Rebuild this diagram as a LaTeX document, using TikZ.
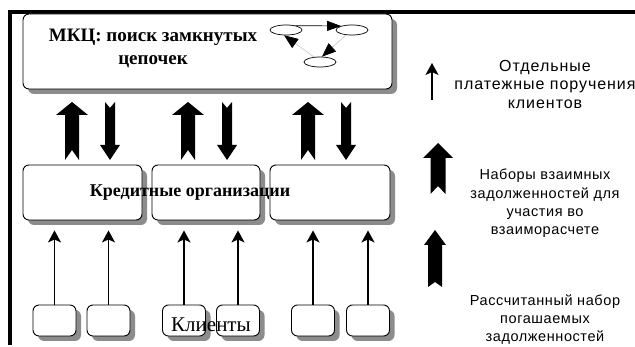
\documentclass[tikz,border=0pt]{standalone}
\usepackage{fontspec}
\setmainfont{Liberation Serif}
\newfontfamily\legendfont[LetterSpace=4]{Liberation Sans}
\newfontfamily\legendwide[LetterSpace=6]{Liberation Sans}
\usetikzlibrary{arrows.meta,shapes.geometric,shadows}
% cx, tip y, head length, head half width, body half width, bottom y, notch depth
\newcommand\ThickUpArrow[7]{%
  \fill ({#1},{#2}) -- ({#1+#4},{#2+#3}) -- ({#1+#5},{#2+#3}) -- ({#1+#5},{#6})
     -- ({#1},{#6-#7}) -- ({#1-#5},{#6}) -- ({#1-#5},{#2+#3}) -- ({#1-#4},{#2+#3}) -- cycle;}
% cx, top y, notch depth, body half width, head half width, head start y, tip y
\newcommand\ThickDownArrow[7]{%
  \fill ({#1-#4},{#2}) -- ({#1},{#2+#3}) -- ({#1+#4},{#2}) -- ({#1+#4},{#6})
     -- ({#1+#5},{#6}) -- ({#1},{#7}) -- ({#1-#5},{#6}) -- ({#1-#4},{#6}) -- cycle;}
\begin{document}
\begin{tikzpicture}[x=1pt,y=-1pt,
  box/.style={draw=black, line width=0.9pt, fill=white, rounded corners=6pt, inner sep=0pt,
     drop shadow={shadow xshift=5pt, shadow yshift=-5pt, fill=black!45, opacity=1}},
  ell/.style={draw, ellipse, minimum width=32pt, minimum height=10pt, inner sep=0pt, line width=0.7pt},
  thinarrow/.style={line width=1.3pt, -{Stealth[length=12pt,width=13pt,inset=3pt]}},
  graphedge/.style={draw=black!20, line width=0.7pt, -{Triangle[length=14pt,width=11pt,color=black]}},
  legendtext/.style={font=\legendfont\fontsize{14.5}{16}\selectfont, anchor=base, inner sep=0pt},
  legendtop/.style={font=\legendwide\fontsize{16}{18}\selectfont, anchor=base, inner sep=0pt},
  serifbold/.style={font=\bfseries\fontsize{19}{21}\selectfont, anchor=base, inner sep=0pt},
  midtext/.style={font=\bfseries\fontsize{18}{20}\selectfont, anchor=base, inner sep=0pt},
]
\fill[white] (0,0) rectangle (635,347);
\useasboundingbox (0,0) rectangle (635,347);

% frame
\draw[line width=4pt] (10,345) -- (10,12) -- (635,12);

% top box
\node[box, minimum width=369pt, minimum height=75pt] (mkc) at (207.5,51.5) {};
\node[serifbold] (mkct1) at (153,42) {МКЦ: поиск замкнутых};
\node[serifbold] (mkct2) at (153,65) {цепочек};

% small graph
\node[ell] (e1) at (286,30) {};
\node[ell] (e2) at (352,30) {};
\node[ell] (e3) at (320,62) {};
\draw[line width=0.7pt, -{Triangle[length=14pt,width=10pt]}] (e1.25) -- (e2.160);
\draw[graphedge] (e2.220) -- (e3.70);
\draw[graphedge] (e3.140) -- (e1.250);

% credit organisations
\node[box, minimum width=119pt, minimum height=55pt] (b1) at (82.5,192.5) {};
\node[box, minimum width=108pt, minimum height=55pt] (b2) at (206,192.5) {};
\node[box, minimum width=120pt, minimum height=55pt] (b3) at (330,192.5) {};
\node[midtext] (ko) at (190,197) {Кредитные организации};

% thick arrows between layers
\ThickUpArrow{72}{102}{13}{16}{7}{160}{10}
\ThickDownArrow{110}{102}{6}{5}{10}{145}{160}
\ThickUpArrow{188}{102}{13}{16}{7}{160}{10}
\ThickDownArrow{227}{102}{6}{5}{10}{145}{160}
\ThickUpArrow{308}{102}{13}{16}{7}{160}{10}
\ThickDownArrow{346}{102}{6}{5}{10}{145}{160}

% clients
\node[box, minimum width=43pt, minimum height=31pt] (c1) at (54.5,320.5) {};
\node[box, minimum width=43pt, minimum height=31pt] (c2) at (108.5,320.5) {};
\node[box, minimum width=43pt, minimum height=31pt] (c3) at (184,320.5) {};
\node[box, minimum width=43pt, minimum height=31pt] (c4) at (238,320.5) {};
\node[box, minimum width=43pt, minimum height=31pt] (c5) at (313,320.5) {};
\node[box, minimum width=43pt, minimum height=31pt] (c6) at (368,320.5) {};
\node[font=\fontsize{21}{24}\selectfont, anchor=base, inner sep=0pt] (cl) at (211,332) {Клиенты};

\draw[thinarrow, shorten >=10pt] (c1.north) -- (c1.north |- b1.south);
\draw[thinarrow, shorten >=10pt] (c2.north) -- (c2.north |- b1.south);
\draw[thinarrow, shorten >=10pt] (c3.north) -- (c3.north |- b2.south);
\draw[thinarrow, shorten >=10pt] (c4.north) -- (c4.north |- b2.south);
\draw[thinarrow, shorten >=10pt] (c5.north) -- (c5.north |- b3.south);
\draw[thinarrow, shorten >=10pt] (c6.north) -- (c6.north |- b3.south);

% legend
\coordinate (l1a) at (432,100);
\coordinate (l1b) at (432,63);
\draw[thinarrow] (l1a) -- (l1b);
\node[legendtop] (lt1) at (545,71.5) {Отдельные};
\node[legendtop] (lt2) at (545,90) {платежные поручения};
\node[legendtop] (lt3) at (545,109) {клиентов};

\ThickUpArrow{438}{143}{15}{15}{7.5}{194}{8}
\node[legendtext] (lt4) at (545,180) {Наборы взаимных};
\node[legendtext] (lt5) at (545,199) {задолженностей для};
\node[legendtext] (lt6) at (545,217) {участия во};
\node[legendtext] (lt7) at (545,235) {взаиморасчете};

\ThickUpArrow{435}{230}{15}{11}{7}{287}{5}
\node[legendtext] (lt8) at (545,305.5) {Рассчитанный набор};
\node[legendtext] (lt9) at (545,323.5) {погашаемых};
\node[legendtext] (lt10) at (545,341.5) {задолженностей};
\end{tikzpicture}
\end{document}
